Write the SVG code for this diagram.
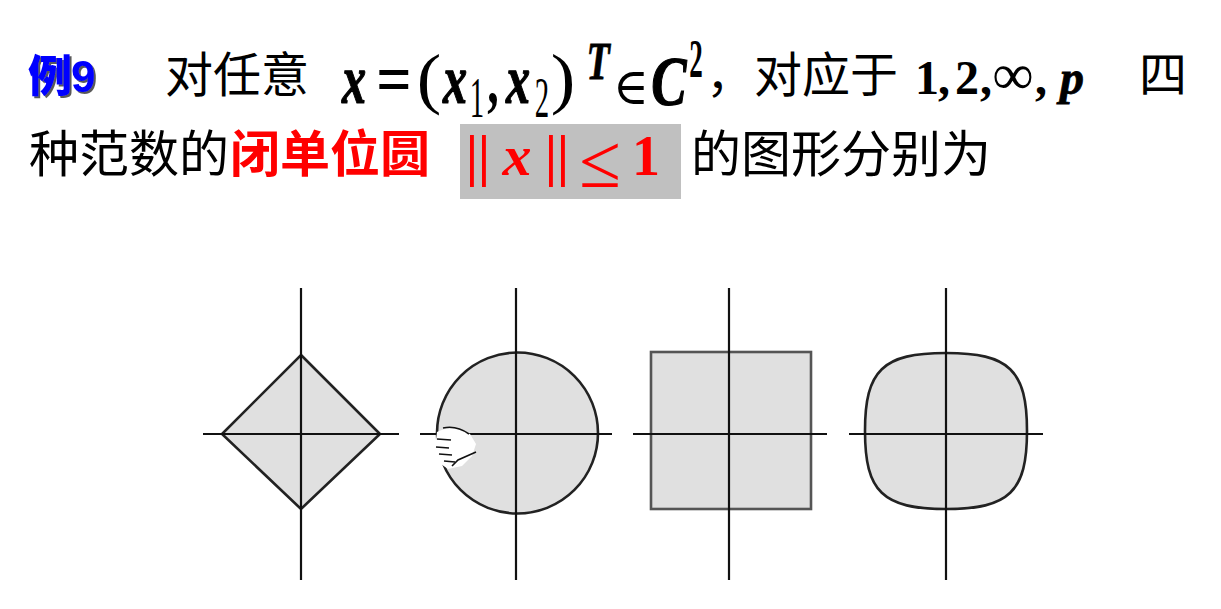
<svg xmlns="http://www.w3.org/2000/svg" width="1221" height="609" viewBox="0 0 1221 609">
<defs>
  <filter id="shadow" x="-10%" y="-10%" width="130%" height="130%">
    <feDropShadow dx="2" dy="2" stdDeviation="0.6" flood-color="#222" flood-opacity="0.75"/>
  </filter>
</defs>
<style>
.cn{font-family:"Noto Sans CJK SC","Noto Sans",sans-serif;font-size:48px;fill:#000}
.cnr{font-family:"Noto Sans CJK SC","Noto Sans",sans-serif;font-size:50px;font-weight:700;fill:#ff0000}
.m{font-family:"Liberation Serif","DejaVu Serif",serif;font-size:46px;font-weight:700;fill:#000;text-anchor:middle}
.mi{font-style:italic;stroke:#000;stroke-width:0.8px}
.mn{font-weight:400}
.mr{font-family:"Liberation Serif","DejaVu Serif",serif;fill:#ff0000;text-anchor:middle}
.ax{stroke:#111;stroke-width:2.2;fill:none}
.sh{fill:#e0e0e0;stroke:#222;stroke-width:2.6}
</style>
<rect width="1221" height="609" fill="#fff"/>

<g id="title-line1">
  <g id="label-example" filter="url(#shadow)" fill="#0000ff">
    <text x="28" y="92" font-family="'Noto Sans CJK SC',sans-serif" font-size="44" font-weight="900"><tspan>例</tspan><tspan x="71" font-family="'Liberation Sans',sans-serif" font-weight="700">9</tspan></text>
  </g>
  <text class="cn" x="165" y="92">对任意</text>
  <g id="math1">
    <text class="m mi" transform="translate(354,103) scale(1.05,1.5)">x</text>
    <text class="m" transform="translate(394,103) scale(1.35,1.5)">=</text>
    <text class="m mn" transform="translate(429,101) scale(1.6,1.45)">(</text>
    <text class="m mi" transform="translate(455,103) scale(1.05,1.5)">x</text>
    <text class="m mn" style="font-size:36px" transform="translate(477,117) scale(0.8,1.6)">1</text>
    <text class="m" transform="translate(493,103) scale(1,1.5)">,</text>
    <text class="m mi" transform="translate(518,103) scale(1.05,1.5)">x</text>
    <text class="m mn" style="font-size:36px" transform="translate(542,117) scale(0.8,1.6)">2</text>
    <text class="m mn" transform="translate(563,101) scale(1.6,1.45)">)</text>
    <text class="m mi" style="font-size:40px;stroke-width:0.6px" transform="translate(598,79) scale(0.95,1.3)">T</text>
    <text class="m mn" style="font-size:44px" transform="translate(631,104) scale(1.1,1.15)">∈</text>
    <text class="m mi" transform="translate(669,105) scale(1.15,1.5)">C</text>
    <text class="m" style="font-size:36px" transform="translate(696,77) scale(0.75,1.5)">2</text>
  </g>
  <text class="cn" x="706" y="92">，对应于</text>
  <g id="math2">
    <text class="m" style="font-size:48px" x="927" y="94">1</text>
    <text class="m" style="font-size:48px" x="944" y="94">,</text>
    <text class="m" style="font-size:48px" x="967" y="94">2</text>
    <text class="m" style="font-size:48px" x="986" y="94">,</text>
    <text class="m mn" style="font-size:58px" x="1013" y="94">∞</text>
    <text class="m" style="font-size:48px" x="1041" y="94">,</text>
    <text class="m mi" style="font-size:48px" x="1072" y="94">p</text>
  </g>
  <text class="cn" x="1139" y="92">四</text>
</g>

<g id="title-line2">
  <text class="cn" x="29" y="172" style="font-size:50px">种范数的</text>
  <text class="cnr" x="230" y="172">闭单位圆</text>
  <g id="norm-box">
    <rect x="460" y="124" width="221" height="75" fill="#c0c0c0"/>
    <text class="mr" font-size="56" font-weight="700" x="472" y="175">|</text>
    <text class="mr" font-size="56" font-weight="700" x="484" y="175">|</text>
    <text class="mr" font-size="58" font-weight="700" font-style="italic" x="517" y="175">x</text>
    <text class="mr" font-size="56" font-weight="700" x="551" y="175">|</text>
    <text class="mr" font-size="56" font-weight="700" x="563" y="175">|</text>
    <text class="mr" font-size="76" x="600" y="187">≤</text>
    <text class="mr" font-size="56" font-weight="700" x="646" y="175">1</text>
  </g>
  <text class="cn" x="691" y="172" style="font-size:50px">的图形分别为</text>
</g>

<g id="fig-l1">
  <polygon class="sh" points="301,355 380,434 301,509 222,434"/>
  <line class="ax" x1="301" y1="288" x2="301" y2="580"/>
  <line class="ax" x1="203" y1="434" x2="399" y2="434"/>
</g>

<g id="fig-l2">
  <circle class="sh" cx="517.5" cy="433" r="80.5"/>
  <line class="ax" x1="516" y1="288" x2="516" y2="580"/>
  <line class="ax" x1="420" y1="434" x2="612" y2="434"/>
  <g id="cursor" stroke="#111" stroke-width="1.6" fill="none">
    <path d="M437,432 C448,426 460,428 470,434 L476,444 L472,456 L462,466 L448,469 L438,462 L435,448 Z" fill="#fff" stroke="none"/>
    <path d="M443,428 C452,426 462,429 469,434"/>
    <path d="M437,439 L451,440 M436,447 L449,448 M439,454 L452,455 M444,461 L455,462"/>
    <path d="M452,466 L458,460 L476,452"/>
  </g>
</g>

<g id="fig-linf">
  <rect x="651" y="352" width="160" height="157" fill="#e0e0e0" stroke="#555" stroke-width="2.6"/>
  <line class="ax" x1="729" y1="288" x2="729" y2="580"/>
  <line class="ax" x1="633" y1="434" x2="827" y2="434"/>
</g>

<g id="fig-lp">
  <path class="sh" d="M1027,431 C1027,370.2 1009.2,353 946,353 C882.8,353 865,370.2 865,431 C865,491.8 882.8,509 946,509 C1009.2,509 1027,491.8 1027,431 Z"/>
  <line class="ax" x1="946" y1="288" x2="946" y2="580"/>
  <line class="ax" x1="849" y1="434" x2="1043" y2="434"/>
</g>
</svg>
